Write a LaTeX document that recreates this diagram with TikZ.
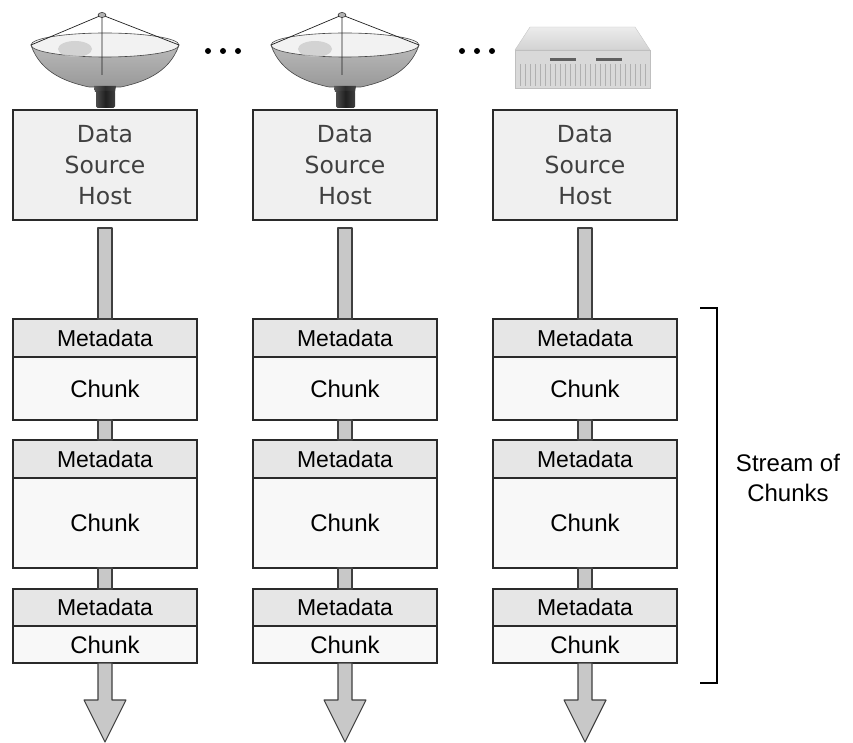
\documentclass[tikz,border=0pt]{standalone}
\usepackage{fontspec}
\setmainfont{Liberation Sans}
\newfontfamily\hostfont{DejaVu Sans}
\usetikzlibrary{positioning}
\definecolor{hostfill}{HTML}{F0F0F0}
\definecolor{metafill}{HTML}{E6E6E6}
\definecolor{chunkfill}{HTML}{F8F8F8}
\definecolor{shaftfill}{HTML}{C8C8C8}
\definecolor{edgegray}{HTML}{2A2A2A}
\tikzset{
x=1pt, y=-1pt, % one unit per pixel, y going down
node distance=56pt, % gap between the columns
every node/.style={outer sep=0pt, inner sep=2pt},
host/.style={draw=edgegray, line width=1.5pt, fill=hostfill, minimum width=184pt, minimum height=110pt, align=center, text=black!75, font=\hostfont\fontsize{23.5}{31}\selectfont},
meta/.style={draw=edgegray, line width=1.5pt, fill=metafill, minimum width=184pt, minimum height=38pt, font=\fontsize{23}{27}\selectfont},
chunk/.style={meta, fill=chunkfill, font=\fontsize{24}{28}\selectfont},
shaft/.style={draw=black!75, line width=1.1pt, fill=shaftfill, line join=round},
dish/.pic={
  % outer bowl
  \shade[top color=gray!55, bottom color=gray!80, draw=gray!55!black, line width=0.6pt]
    (-74,0) .. controls (-64,30) and (-34,38) .. (-16,42) -- (16,42) .. controls (34,38) and (64,30) .. (74,0) -- cycle;
  % inner surface
  \fill[gray!10, draw=gray!55!black, line width=0.6pt] (0,0) ellipse (74 and 12);
  \fill[gray!45, opacity=0.7] (-30,4) ellipse (17 and 8);
  % neck
  \shade[left color=gray!70!black, right color=gray!55!black, middle color=gray!35!black] (-11,41) -- (11,41) -- (10,47) -- (-10,47) -- cycle;
  \shade[left color=gray!60!black, right color=gray!50!black, middle color=gray!25!black, rounded corners=1.5pt] (-9,46) rectangle (10,63);
  % feed arms
  \draw[gray!25!black, line width=0.7pt] (-74,0) -- (-3,-30) -- (74,0) (-3,-30) -- (-3,30);
  \fill[gray!60, draw=gray!25!black, line width=0.5pt] (-3,-30) ellipse (4 and 2.5);
},
rack/.pic={
  \shade[top color=gray!15, bottom color=gray!35, draw=gray!45] (-52,-30) -- (53,-30) -- (68,-7) -- (-67,-7) -- cycle;
  \fill[gray!30, draw=gray!50] (-67,-7) rectangle (68,31);
  \foreach \i in {-62,-57,...,63} \draw[gray!62, line width=0.9pt] (\i,7) -- (\i,29);
  \fill[gray!75!black] (-32,1) rectangle (-6,4);
  \fill[gray!75!black] (14,1) rectangle (40,4);
},
}

\begin{document}
\begin{tikzpicture}
\useasboundingbox (0,0) rectangle (853,743);
% source hosts
\node[host] (h1) at (105,165) {Data\\Source\\Host};
\node[host, right=of h1] (h2) {Data\\Source\\Host};
\node[host, right=of h2] (h3) {Data\\Source\\Host};
\pic at (105,45) {dish};
\pic at (345,45) {dish};
\pic at (582,57) {rack};
% chunk streams
\node[meta, below=99pt of h1] (m11) {Metadata};
\node[chunk, below=0pt of m11, minimum height=63pt] (c11) {Chunk};
\node[meta, below=20pt of c11] (m12) {Metadata};
\node[chunk, below=0pt of m12, minimum height=90pt] (c12) {Chunk};
\node[meta, below=21pt of c12, minimum height=37pt] (m13) {Metadata};
\node[chunk, below=0pt of m13, minimum height=37pt] (c13) {Chunk};
\node[meta, below=99pt of h2] (m21) {Metadata};
\node[chunk, below=0pt of m21, minimum height=63pt] (c21) {Chunk};
\node[meta, below=20pt of c21] (m22) {Metadata};
\node[chunk, below=0pt of m22, minimum height=90pt] (c22) {Chunk};
\node[meta, below=21pt of c22, minimum height=37pt] (m23) {Metadata};
\node[chunk, below=0pt of m23, minimum height=37pt] (c23) {Chunk};
\node[meta, below=99pt of h3] (m31) {Metadata};
\node[chunk, below=0pt of m31, minimum height=63pt] (c31) {Chunk};
\node[meta, below=20pt of c31] (m32) {Metadata};
\node[chunk, below=0pt of m32, minimum height=90pt] (c32) {Chunk};
\node[meta, below=21pt of c32, minimum height=37pt] (m33) {Metadata};
\node[chunk, below=0pt of m33, minimum height=37pt] (c33) {Chunk};
% shafts between the boxes
\draw[shaft] ([xshift=-7pt,yshift=-8pt]h1.south) rectangle ([xshift=7pt]m11.north);
\draw[shaft] ([xshift=-7pt]c11.south) rectangle ([xshift=7pt]m12.north);
\draw[shaft] ([xshift=-7pt]c12.south) rectangle ([xshift=7pt]m13.north);
\draw[shaft] ([xshift=-7pt,yshift=-8pt]h2.south) rectangle ([xshift=7pt]m21.north);
\draw[shaft] ([xshift=-7pt]c21.south) rectangle ([xshift=7pt]m22.north);
\draw[shaft] ([xshift=-7pt]c22.south) rectangle ([xshift=7pt]m23.north);
\draw[shaft] ([xshift=-7pt,yshift=-8pt]h3.south) rectangle ([xshift=7pt]m31.north);
\draw[shaft] ([xshift=-7pt]c31.south) rectangle ([xshift=7pt]m32.north);
\draw[shaft] ([xshift=-7pt]c32.south) rectangle ([xshift=7pt]m33.north);
% outgoing arrows
\draw[shaft] (c13.south) ++(-7,0) -- ++(0,37) -- ++(-14,0) -- ++(21,42) -- ++(21,-42) -- ++(-14,0) -- ++(0,-37) -- cycle;
\draw[shaft] (c23.south) ++(-7,0) -- ++(0,37) -- ++(-14,0) -- ++(21,42) -- ++(21,-42) -- ++(-14,0) -- ++(0,-37) -- cycle;
\draw[shaft] (c33.south) ++(-7,0) -- ++(0,37) -- ++(-14,0) -- ++(21,42) -- ++(21,-42) -- ++(-14,0) -- ++(0,-37) -- cycle;
% ellipsis between the sources
\foreach \x in {208,223,238,462,477,492} \fill (\x,51) circle (3);
% bracket
\draw[line width=1.4pt] (700,308) -- (717,308) -- (717,683) -- (700,683);
\node[align=center, font=\fontsize{24}{30}\selectfont] (stream) at (788,478) {Stream of\\Chunks};
\end{tikzpicture}
\end{document}
